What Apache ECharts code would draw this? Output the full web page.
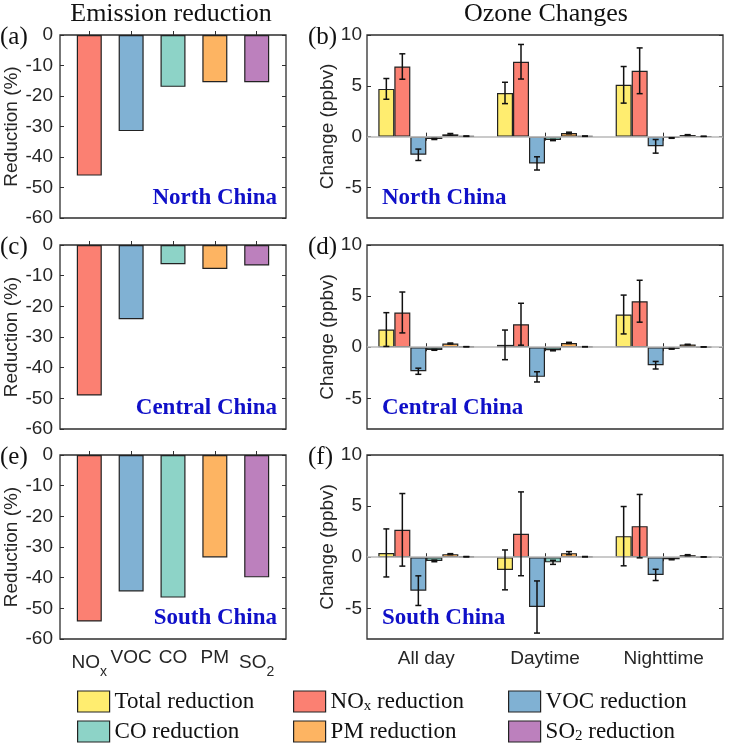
<!DOCTYPE html>
<html>
<head>
<meta charset="utf-8">
<script src="https://cdn.jsdelivr.net/npm/echarts@6/dist/echarts.min.js"></script>
<style>html,body{margin:0;padding:0;background:#fff;}#c{width:733px;height:746px;}</style>
</head>
<body>
<div id="c"></div>
<script>
// ---------- data ----------
const emisCats = ['NOx', 'VOC', 'CO', 'PM', 'SO2'];
const emisNorth = [-46.1, -31.5, -17.0, -15.5, -15.5];
const emisCentral = [-49.1, -24.2, -6.3, -7.8, -6.7];
const emisSouth = [-54.3, -44.5, -46.5, -33.4, -39.9];

const periods = ['All day', 'Daytime', 'Nighttime'];
const scenarios = ['Total reduction', 'NOx reduction', 'VOC reduction', 'CO reduction', 'PM reduction', 'SO2 reduction'];
const regions = ['North China', 'Central China', 'South China'];
const panelLetters = [['(a)', '(b)'], ['(c)', '(d)'], ['(e)', '(f)']];

// ozone change (ppbv) per scenario over [All day, Daytime, Nighttime]
const northTotal = [4.7, 4.3, 5.1],   northTotalErr = [1.02, 1.05, 1.8];
const northNOx   = [6.9, 7.37, 6.48], northNOxErr   = [1.25, 1.7, 2.25];
const northVOC   = [-1.78, -2.63, -0.95], northVOCErr = [0.56, 0.65, 0.67];
const northCO    = [-0.23, -0.33, -0.13], northCOErr  = [0.05, 0.06, 0.03];
const northPM    = [0.23, 0.36, 0.16], northPMErr     = [0.08, 0.08, 0.04];
const northSO2   = [0.05, 0.05, 0.03], northSO2Err    = [0.02, 0.02, 0.01];

const centralTotal = [1.73, 0.23, 3.2],  centralTotalErr = [1.65, 1.45, 1.9];
const centralNOx   = [3.4, 2.25, 4.5],   centralNOxErr   = [2.0, 2.05, 2.05];
const centralVOC   = [-2.35, -2.9, -1.76], centralVOCErr = [0.3, 0.5, 0.37];
const centralCO    = [-0.26, -0.3, -0.16], centralCOErr  = [0.04, 0.05, 0.03];
const centralPM    = [0.36, 0.42, 0.26], centralPMErr    = [0.05, 0.06, 0.03];
const centralSO2   = [0.05, 0.05, 0.03], centralSO2Err   = [0.01, 0.01, 0.01];

const southTotal = [0.42, -1.24, 2.06], southTotalErr = [2.35, 1.95, 2.9];
const southNOx   = [2.68, 2.29, 3.04],  southNOxErr   = [3.55, 4.1, 3.1];
const southVOC   = [-3.27, -4.87, -1.73], southVOCErr = [1.45, 2.55, 0.55];
const southCO    = [-0.36, -0.5, -0.2], southCOErr    = [0.08, 0.2, 0.05];
const southPM    = [0.3, 0.4, 0.2], southPMErr        = [0.05, 0.15, 0.05];
const southSO2   = [0.05, 0.05, 0.03], southSO2Err    = [0.02, 0.02, 0.01];

const yTicksOzone = [-5, 0, 5, 10];

// ---------- styling ----------
const colors = ['#FFED6F', '#FB8072', '#80B1D3', '#8DD3C7', '#FDB462', '#BC80BD'];
const emisColors = ['#FB8072', '#80B1D3', '#8DD3C7', '#FDB462', '#BC80BD'];
const SANS = '"Liberation Sans", Arial, sans-serif';
const SERIF = '"Liberation Serif", "Times New Roman", serif';
const TXT = '#262626';
const FRAME = '#2e2e2e';
const FS = 19;

const emisByRegion = [emisNorth, emisCentral, emisSouth];
const ozoneByRegion = [
  { v: [northTotal, northNOx, northVOC, northCO, northPM, northSO2],
    e: [northTotalErr, northNOxErr, northVOCErr, northCOErr, northPMErr, northSO2Err] },
  { v: [centralTotal, centralNOx, centralVOC, centralCO, centralPM, centralSO2],
    e: [centralTotalErr, centralNOxErr, centralVOCErr, centralCOErr, centralPMErr, centralSO2Err] },
  { v: [southTotal, southNOx, southVOC, southCO, southPM, southSO2],
    e: [southTotalErr, southNOxErr, southVOCErr, southCOErr, southPMErr, southSO2Err] }
];

function subRich(name, mainKey, subKey) {
  const m = name.match(/^(.*?(?:NO|SO))([x2])(.*)$/);
  if (!m) return '{' + mainKey + '|' + name + '}';
  let s = '{' + mainKey + '|' + m[1] + '}{' + subKey + '|' + m[2] + '}';
  if (m[3]) s += '{' + mainKey + '|' + m[3] + '}';
  return s;
}

const tops = [35, 245, 455];
const heights = [183, 184, 184];
const LBAR = 25, RBAR = 16;

const grid = [], xAxis = [], yAxis = [], series = [], graphic = [];
const tickStyle = { color: FRAME, width: 1 };

for (let r = 0; r < 3; r++) {
  // ---- left grid (emission reduction) ----
  const gL = grid.length;
  grid.push({ left: 60, top: tops[r], width: 226, height: heights[r], show: true,
              borderColor: FRAME, borderWidth: 1.3, backgroundColor: '#fff' });
  const xLb = xAxis.length;
  xAxis.push({
    type: 'value', gridIndex: gL, min: 0.3, max: 5.7, position: 'bottom',
    axisLine: { show: false }, splitLine: { show: false },
    axisTick: { show: true, inside: true, length: 4, customValues: [1, 2, 3, 4, 5], lineStyle: tickStyle },
    axisLabel: {
      show: r === 2, customValues: [1, 2, 3, 4, 5], margin: 8,
      formatter: v => subRich(emisCats[Math.round(v) - 1] || '', 'm', 's'),
      rich: {
        m: { fontFamily: SANS, fontSize: FS, color: TXT, lineHeight: 21 },
        s: { fontFamily: SANS, fontSize: 14, color: TXT, padding: [18, 0, 0, 0] }
      }
    }
  });
  xAxis.push({
    type: 'value', gridIndex: gL, min: 0.3, max: 5.7, position: 'top',
    axisLine: { show: false }, splitLine: { show: false },
    axisTick: { show: true, inside: true, length: 4, customValues: [1, 2, 3, 4, 5], lineStyle: tickStyle },
    axisLabel: { show: false }
  });
  const yL = yAxis.length;
  yAxis.push({
    type: 'value', gridIndex: gL, min: -60, max: 0, interval: 10, position: 'left',
    axisLine: { show: false }, splitLine: { show: false },
    axisTick: { show: true, inside: true, length: 4, lineStyle: tickStyle },
    axisLabel: { fontFamily: SANS, fontSize: FS, color: TXT, margin: 7 },
    name: 'Reduction (%)', nameLocation: 'middle', nameGap: 39,
    nameTextStyle: { fontFamily: SANS, fontSize: FS, color: TXT }
  });
  yAxis.push({
    type: 'value', gridIndex: gL, min: -60, max: 0, interval: 10, position: 'right',
    axisLine: { show: false }, splitLine: { show: false },
    axisTick: { show: true, inside: true, length: 4, lineStyle: tickStyle },
    axisLabel: { show: false }
  });
  series.push({
    type: 'bar', name: 'emis-' + regions[r], xAxisIndex: xLb, yAxisIndex: yL, barWidth: LBAR,
    itemStyle: { borderColor: '#222', borderWidth: 1.2 },
    data: emisByRegion[r].map((v, i) => ({ value: [i + 1, v], itemStyle: { color: emisColors[i] } })),
    z: 2
  });

  // ---- right grid (ozone changes) ----
  const gR = grid.length;
  grid.push({ left: 367, top: tops[r], width: 356, height: heights[r], show: true,
              borderColor: FRAME, borderWidth: 1.3, backgroundColor: '#fff' });
  const xRb = xAxis.length;
  xAxis.push({
    type: 'category', gridIndex: gR, data: periods, position: 'bottom', boundaryGap: true,
    axisLine: { show: false }, splitLine: { show: false },
    axisTick: { show: true, inside: true, length: 4, alignWithLabel: true, lineStyle: tickStyle },
    axisLabel: { show: r === 2, fontFamily: SANS, fontSize: FS, color: TXT, margin: 10 }
  });
  xAxis.push({
    type: 'category', gridIndex: gR, data: periods, position: 'top', boundaryGap: true,
    axisLine: { show: false }, splitLine: { show: false },
    axisTick: { show: true, inside: true, length: 4, alignWithLabel: true, lineStyle: tickStyle },
    axisLabel: { show: false }
  });
  const yR = yAxis.length;
  yAxis.push({
    type: 'value', gridIndex: gR, min: -8, max: 10, position: 'left',
    axisLine: { show: false }, splitLine: { show: false },
    axisTick: { show: true, inside: true, length: 4, customValues: yTicksOzone, lineStyle: tickStyle },
    axisLabel: { fontFamily: SANS, fontSize: FS, color: TXT, margin: 5, customValues: yTicksOzone },
    name: 'Change (ppbv)', nameLocation: 'middle', nameGap: 30,
    nameTextStyle: { fontFamily: SANS, fontSize: FS, color: TXT }
  });
  yAxis.push({
    type: 'value', gridIndex: gR, min: -8, max: 10, position: 'right',
    axisLine: { show: false }, splitLine: { show: false },
    axisTick: { show: true, inside: true, length: 4, customValues: yTicksOzone, lineStyle: tickStyle },
    axisLabel: { show: false }
  });
  // zero line
  series.push({
    type: 'line', name: 'zero-' + r, xAxisIndex: xRb, yAxisIndex: yR, data: [], z: 1,
    markLine: { silent: true, symbol: 'none', label: { show: false },
      lineStyle: { color: '#b8b8b8', width: 1.5, type: 'solid' }, data: [{ yAxis: 0 }] }
  });
  const oz = ozoneByRegion[r];
  const errData = [];
  for (let s = 0; s < 6; s++) {
    series.push({
      type: 'bar', name: scenarios[s], xAxisIndex: xRb, yAxisIndex: yR,
      barWidth: RBAR, barGap: '0%', z: 2,
      itemStyle: { color: colors[s], borderColor: '#222', borderWidth: 1.2 },
      data: oz.v[s]
    });
    for (let c = 0; c < 3; c++) errData.push([c, s, oz.v[s][c], oz.e[s][c]]);
  }
  series.push({
    type: 'custom', name: 'err-' + r, xAxisIndex: xRb, yAxisIndex: yR, z: 5, silent: true,
    encode: { x: 0, y: 2 },
    data: errData,
    renderItem: function (params, api) {
      const c = api.value(0), s = api.value(1), v = api.value(2), e = api.value(3);
      const p = api.coord([c, v]);
      const x = p[0] + (s - 2.5) * RBAR;
      const yHi = api.coord([c, v + e])[1];
      const yLo = api.coord([c, v - e])[1];
      const st = { stroke: '#111', lineWidth: 1.5 };
      return { type: 'group', children: [
        { type: 'line', shape: { x1: x, y1: yHi, x2: x, y2: yLo }, style: st },
        { type: 'line', shape: { x1: x - 3, y1: yHi, x2: x + 3, y2: yHi }, style: st },
        { type: 'line', shape: { x1: x - 3, y1: yLo, x2: x + 3, y2: yLo }, style: st }
      ]};
    }
  });

  // texts
  const regFont = 'bold 23px ' + SERIF;
  graphic.push({ type: 'text', z: 50, style: { x: 277, y: tops[r] + 163, text: regions[r], font: regFont,
    fill: '#1010C8', textAlign: 'right', textVerticalAlign: 'middle' } });
  graphic.push({ type: 'text', z: 50, style: { x: 382, y: tops[r] + 163, text: regions[r], font: regFont,
    fill: '#1010C8', textAlign: 'left', textVerticalAlign: 'middle' } });
  graphic.push({ type: 'text', z: 50, style: { x: 0, y: tops[r] + 2, text: panelLetters[r][0], font: '25px ' + SERIF,
    fill: '#111', textAlign: 'left', textVerticalAlign: 'middle' } });
  graphic.push({ type: 'text', z: 50, style: { x: 308, y: tops[r] + 2, text: panelLetters[r][1], font: '25px ' + SERIF,
    fill: '#111', textAlign: 'left', textVerticalAlign: 'middle' } });
}

graphic.push({ type: 'text', style: { x: 171, y: 14, text: 'Emission reduction', font: '26px ' + SERIF,
  fill: '#111', textAlign: 'center', textVerticalAlign: 'middle' } });
graphic.push({ type: 'text', style: { x: 546, y: 14, text: 'Ozone Changes', font: '26px ' + SERIF,
  fill: '#111', textAlign: 'center', textVerticalAlign: 'middle' } });

const legendPos = [[72, 685], [288, 685], [503, 685], [72, 715], [288, 715], [503, 715]];
const legend = scenarios.map((n, i) => ({
  data: [n], left: legendPos[i][0], top: legendPos[i][1], orient: 'horizontal',
  itemWidth: 32, itemHeight: 21, icon: 'rect', selectedMode: false,
  itemStyle: { borderColor: '#222', borderWidth: 1.2 },
  formatter: name => subRich(name, 'm', 's'),
  textStyle: {
    fontFamily: SERIF, fontSize: 23, color: '#111',
    rich: {
      m: { fontFamily: SERIF, fontSize: 23, color: '#111' },
      s: { fontFamily: SERIF, fontSize: 15, color: '#111', padding: [9, 0, 0, 0] }
    }
  }
}));

const chart = echarts.init(document.getElementById('c'), null, { renderer: 'canvas' });
chart.setOption({
  animation: false,
  backgroundColor: '#fff',
  grid, xAxis, yAxis, series, legend, graphic
});
</script>
</body>
</html>
